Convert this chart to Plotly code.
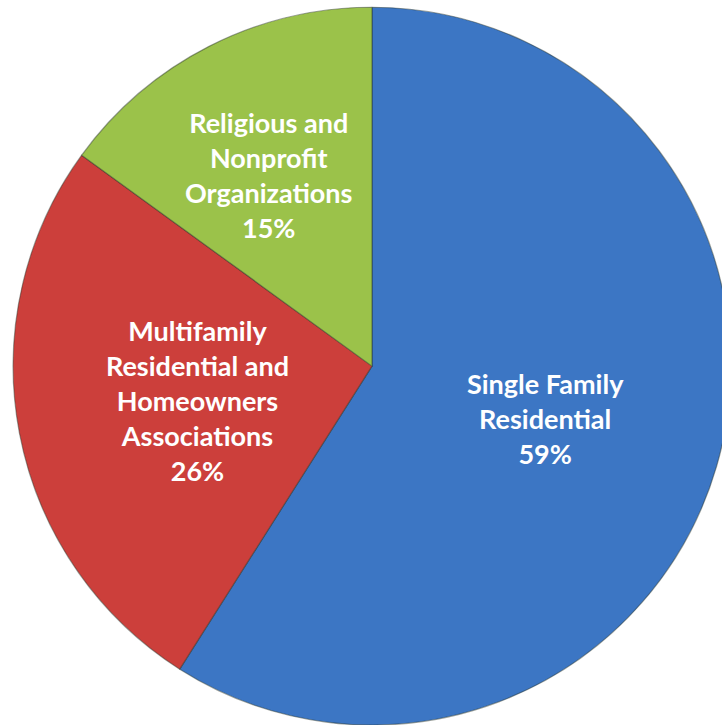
import plotly.graph_objects as go

# Share of participants by customer category
categories = [
    "Single Family<br>Residential",
    "Multifamily<br>Residential and<br>Homeowners<br>Associations",
    "Religious and<br>Nonprofit<br>Organizations",
]
shares = [59, 26, 15]
slice_colors = ["#3C76C4", "#CC3F3B", "#9BC24A"]

# label anchor points (paper coords) for each slice
label_xy = [(0.732, 0.423), (0.265, 0.447), (0.360, 0.758)]

fig = go.Figure(
    go.Pie(
        labels=categories,
        values=shares,
        sort=False,
        direction="clockwise",
        rotation=0,
        textinfo="none",
        hoverinfo="label+percent",
        marker=dict(colors=slice_colors,
                    line=dict(color="rgba(40,50,40,0.45)", width=1.2)),
        domain=dict(x=[0.01745, 0.9812], y=[0.0, 0.99]),
        showlegend=False,
    )
)

for name, val, (ax, ay) in zip(categories, shares, label_xy):
    fig.add_annotation(
        x=ax, y=ay, xref="paper", yref="paper",
        xanchor="center", yanchor="middle",
        text=f"<b>{name}<br>{val}%</b>",
        showarrow=False,
        font=dict(family="Lato", size=27, color="white"),
        align="center",
    )

fig.update_layout(
    width=745,
    height=725,
    margin=dict(l=0, r=0, t=0, b=0),
    paper_bgcolor="white",
    plot_bgcolor="white",
)

fig.write_html(
    "out.html",
    post_script=(
        "document.documentElement.style.overflow='hidden';"
        "document.body.style.overflow='hidden';"
        "document.body.style.margin='0';"
    ),
)
